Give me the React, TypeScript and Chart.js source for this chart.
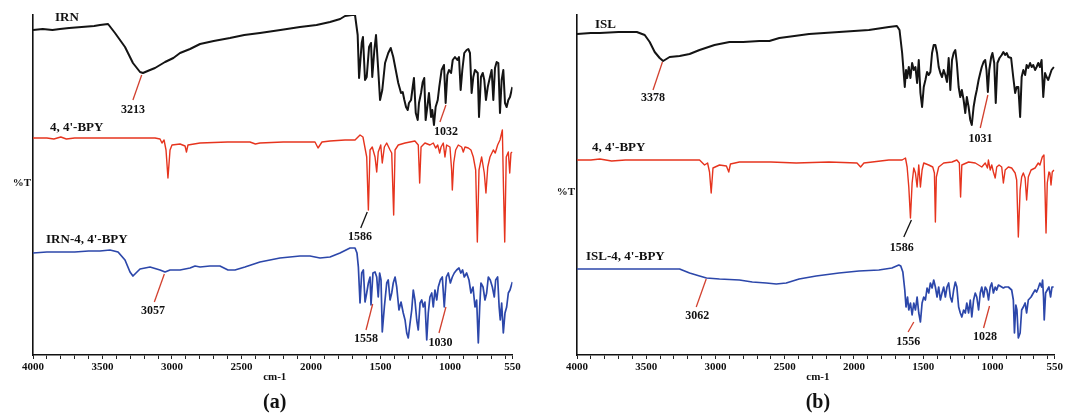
import { useEffect, useRef } from 'react';
import { Chart, registerables } from 'chart.js';

Chart.register(...registerables);

// ---------- axis ticks ----------
const X_TICKS = [4000, 3900, 3800, 3700, 3600, 3500, 3400, 3300, 3200, 3100, 3000, 2900, 2800, 2700, 2600, 2500, 2400, 2300, 2200, 2100, 2000, 1900, 1800, 1700, 1600, 1500, 1400, 1300, 1200, 1100, 1000, 900, 800, 700, 600, 550];
const X_LABELED = [4000, 3500, 3000, 2500, 2000, 1500, 1000, 550];

// ---------- panel (a) series: [wavenumber, %T offset] ----------
const IRN: [number, number][] = [[4000,325],[3930,326],[3860,325],[3806,326],[3740,327],[3650,328],[3560,329],[3518,330],[3460,331],[3410,322],[3338,308],[3281,292],[3230,283],[3209,282],[3158,285],[3122,287],[3050,293],[2990,297],[2942,302],[2870,306],[2798,311],[2700,314],[2583,317],[2480,320],[2367,322],[2220,325],[2079,328],[1960,330],[1863,333],[1790,336],[1755,339],[1705,340],[1683,340],[1664,320],[1654,277],[1635,312],[1626,318],[1611,275],[1599,278],[1582,308],[1568,312],[1559,278],[1544,305],[1532,320],[1516,285],[1503,255],[1487,265],[1467,292],[1444,302],[1426,307],[1408,298],[1390,285],[1372,272],[1352,262],[1340,263],[1328,255],[1316,248],[1304,245],[1295,252],[1280,255],[1268,268],[1259,277],[1246,242],[1232,235],[1223,252],[1208,262],[1196,273],[1185,277],[1175,235],[1163,248],[1151,262],[1136,238],[1127,245],[1115,230],[1103,248],[1088,255],[1077,268],[1060,285],[1043,290],[1031,252],[1019,280],[1007,285],[992,282],[980,295],[964,298],[947,295],[935,298],[923,265],[911,285],[897,302],[880,305],[868,306],[856,302],[844,262],[832,278],[820,285],[800,282],[791,238],[777,278],[764,282],[753,275],[741,255],[728,268],[712,278],[700,285],[688,255],[676,287],[664,293],[652,292],[640,242],[628,275],[616,285],[604,252],[592,248],[580,255],[568,258],[551,268]];

const BPY_A: [number, number][] = [[4000,217],[3900,217],[3850,216],[3800,218],[3760,216],[3700,217],[3600,217],[3518,217],[3400,217],[3250,217],[3122,217],[3086,216],[3072,212],[3057,215],[3043,205],[3029,177],[3014,205],[3000,210],[2942,211],[2906,209],[2896,203],[2885,210],[2798,212],[2600,213],[2439,213],[2400,211],[2367,212],[2200,213],[2079,213],[1971,213],[1949,207],[1921,213],[1863,214],[1755,215],[1683,215],[1647,220],[1626,218],[1599,198],[1587,145],[1575,205],[1559,208],[1539,198],[1527,183],[1516,203],[1498,210],[1487,192],[1472,208],[1455,212],[1431,205],[1419,202],[1405,140],[1395,205],[1372,210],[1323,212],[1252,214],[1228,210],[1218,172],[1208,208],[1180,212],[1144,210],[1120,212],[1103,207],[1088,210],[1074,202],[1064,208],[1048,212],[1036,198],[1024,210],[1000,208],[988,185],[983,165],[973,192],[959,205],[940,210],[916,208],[904,203],[892,208],[868,207],[849,205],[832,198],[815,185],[803,113],[791,185],[772,198],[753,182],[741,162],[728,188],[712,198],[688,205],[674,202],[657,210],[640,215],[623,225],[615,168],[606,113],[595,198],[580,203],[570,182],[561,202],[551,203]];

const IRN_BPY: [number, number][] = [[4000,102],[3900,103],[3806,103],[3700,103],[3600,104],[3518,104],[3446,105],[3388,103],[3338,95],[3302,83],[3281,79],[3230,86],[3158,88],[3086,85],[3050,83],[3014,85],[2942,85],[2870,87],[2834,89],[2798,88],[2727,89],[2655,89],[2597,85],[2547,85],[2475,88],[2367,93],[2223,97],[2079,99],[2007,99],[1935,97],[1863,98],[1791,102],[1719,107],[1683,107],[1669,102],[1659,88],[1647,52],[1635,82],[1623,85],[1611,53],[1599,62],[1587,72],[1575,78],[1568,50],[1554,82],[1539,83],[1527,78],[1516,58],[1506,82],[1496,75],[1487,23],[1472,48],[1455,72],[1444,75],[1431,55],[1419,62],[1408,72],[1395,78],[1383,68],[1367,45],[1352,53],[1336,42],[1323,35],[1311,22],[1300,17],[1287,32],[1275,45],[1264,65],[1252,55],[1239,35],[1228,25],[1215,52],[1203,55],[1192,48],[1180,53],[1167,15],[1156,42],[1144,58],[1131,62],[1120,48],[1108,65],[1095,55],[1084,68],[1069,75],[1055,78],[1041,48],[1026,78],[1012,82],[997,72],[983,78],[969,82],[952,85],[935,87],[922,82],[909,85],[897,78],[880,82],[863,75],[849,62],[834,68],[820,48],[808,55],[796,12],[786,48],[777,72],[762,68],[748,55],[736,62],[724,78],[710,75],[695,68],[681,58],[671,75],[657,78],[646,48],[638,35],[628,52],[616,22],[604,42],[592,48],[580,62],[568,65],[551,73]];

// ---------- panel (b) series ----------
const ISL: [number, number][] = [[4000,321],[3900,322],[3835,322],[3700,323],[3568,323],[3511,320],[3475,313],[3439,303],[3403,297],[3378,294],[3331,298],[3259,299],[3187,301],[3115,305],[3007,310],[2899,313],[2800,313],[2683,314],[2611,314],[2539,317],[2430,319],[2324,321],[2108,323],[1892,325],[1748,328],[1690,329],[1671,325],[1652,302],[1633,268],[1624,285],[1616,277],[1604,288],[1592,277],[1580,292],[1568,285],[1556,288],[1544,272],[1532,295],[1520,262],[1508,248],[1496,268],[1484,275],[1472,283],[1460,280],[1448,283],[1436,302],[1424,310],[1412,310],[1400,302],[1388,288],[1376,282],[1364,278],[1352,285],[1340,280],[1328,273],[1316,297],[1304,265],[1292,295],[1280,302],[1268,305],[1257,292],[1244,268],[1232,258],[1221,265],[1208,255],[1196,242],[1185,258],[1172,248],[1160,235],[1149,230],[1136,248],[1124,258],[1113,265],[1100,275],[1088,282],[1077,288],[1064,293],[1052,295],[1043,285],[1033,263],[1023,285],[1009,298],[1000,302],[987,292],[976,252],[964,292],[949,297],[933,300],[921,303],[908,300],[897,302],[885,298],[865,297],[849,277],[836,262],[825,268],[813,268],[800,238],[789,278],[777,285],[764,280],[753,290],[741,287],[728,292],[717,288],[705,290],[692,285],[681,288],[669,292],[657,288],[645,295],[633,258],[620,282],[609,278],[597,275],[585,280],[573,285],[556,288]];

const BPY_B: [number, number][] = [[4000,195],[3900,195],[3835,196],[3750,194],[3650,195],[3475,195],[3300,195],[3115,195],[3079,190],[3057,192],[3043,183],[3031,162],[3018,187],[2971,190],[2921,189],[2904,183],[2892,191],[2827,193],[2600,193],[2417,192],[2180,193],[1978,192],[1952,188],[1928,192],[1748,195],[1652,195],[1628,197],[1616,188],[1604,168],[1592,137],[1580,172],[1568,187],[1556,182],[1544,168],[1532,190],[1520,168],[1508,185],[1496,192],[1460,190],[1431,188],[1419,182],[1412,133],[1405,178],[1388,188],[1352,192],[1292,193],[1257,195],[1239,192],[1230,158],[1221,190],[1172,193],[1124,192],[1100,190],[1077,188],[1052,192],[1036,187],[1029,195],[1016,185],[1005,190],[993,183],[980,177],[969,188],[952,190],[933,188],[921,172],[908,185],[885,188],[861,187],[836,182],[825,175],[813,118],[800,165],[789,178],[777,182],[764,177],[753,155],[741,178],[721,185],[692,187],[669,192],[657,190],[640,198],[628,200],[620,162],[613,122],[604,172],[592,183],[585,182],[577,170],[568,183],[556,185]];

const ISL_BPY: [number, number][] = [[4000,86],[3850,86],[3691,86],[3500,86],[3259,86],[3187,82],[3115,79],[3065,77],[2971,76],[2827,75],[2734,73],[2633,72],[2561,71],[2489,72],[2396,76],[2273,79],[2108,82],[1964,84],[1820,85],[1726,87],[1676,90],[1662,89],[1647,83],[1633,65],[1624,48],[1613,58],[1604,45],[1592,52],[1580,40],[1568,52],[1556,45],[1544,58],[1532,42],[1520,33],[1508,52],[1496,58],[1484,55],[1472,67],[1460,62],[1448,72],[1436,67],[1424,75],[1412,68],[1400,58],[1388,68],[1376,55],[1364,62],[1352,68],[1340,58],[1328,68],[1316,72],[1304,58],[1292,53],[1280,65],[1268,73],[1257,68],[1244,48],[1232,42],[1221,38],[1208,45],[1196,42],[1185,52],[1172,42],[1160,55],[1149,38],[1136,55],[1124,62],[1113,58],[1100,45],[1088,62],[1077,68],[1064,58],[1052,68],[1040,65],[1028,55],[1016,68],[1005,72],[993,62],[980,68],[969,65],[957,70],[933,68],[921,67],[908,68],[885,68],[861,65],[849,55],[841,22],[831,50],[823,45],[813,17],[800,22],[789,45],[777,48],[764,52],[753,42],[741,55],[721,58],[705,62],[692,65],[681,63],[669,67],[657,72],[645,68],[638,75],[631,58],[626,35],[616,62],[604,65],[592,68],[580,58],[570,68],[558,68]];

// ---------- labels & peak annotations (data coordinates) ----------
type Ann = { text: string; from: [number, number]; to: [number, number]; at: [number, number]; color: string };
type SeriesLabel = { text: string; at: [number, number] };

const LABELS_A: SeriesLabel[] = [
  { text: 'IRN', at: [3842, 337] },
  { text: "4, 4'-BPY", at: [3878, 227] },
  { text: "IRN-4, 4'-BPY", at: [3906, 115] },
];
const ANN_A: Ann[] = [
  { text: '3213', from: [3218, 280], to: [3281, 255], at: [3281, 245], color: '#d2412f' },
  { text: '1032', from: [1029, 250], to: [1072, 233], at: [1029, 223], color: '#d2412f' },
  { text: '1586', from: [1595, 143], to: [1642, 127], at: [1647, 118], color: '#111111' },
  { text: '3057', from: [3055, 81], to: [3127, 53], at: [3137, 44], color: '#d2412f' },
  { text: '1558', from: [1556, 51], to: [1604, 25], at: [1604, 16], color: '#d2412f' },
  { text: '1030', from: [1029, 48], to: [1079, 22], at: [1068, 12], color: '#d2412f' },
];
const LABELS_B: SeriesLabel[] = [
  { text: 'ISL', at: [3870, 330] },
  { text: "4, 4'-BPY", at: [3892, 207] },
  { text: "ISL-4, 4'-BPY", at: [3935, 98] },
];
const ANN_B: Ann[] = [
  { text: '3378', from: [3383, 293], to: [3451, 265], at: [3451, 257], color: '#d2412f' },
  { text: '1031', from: [1033, 260], to: [1088, 227], at: [1086, 216], color: '#d2412f' },
  { text: '1586', from: [1585, 135], to: [1640, 118], at: [1654, 107], color: '#111111' },
  { text: '3062', from: [3067, 76], to: [3139, 48], at: [3131, 39], color: '#d2412f' },
  { text: '1556', from: [1568, 33], to: [1609, 23], at: [1608, 13], color: '#d2412f' },
  { text: '1028', from: [1021, 49], to: [1064, 27], at: [1054, 18], color: '#d2412f' },
];

const COLORS = { black: '#141414', red: '#e6341e', blue: '#2c47aa' };
const SERIF = "'Liberation Serif', 'DejaVu Serif', serif";

type PanelDef = {
  series: { data: [number, number][]; color: string; width: number }[];
  labels: SeriesLabel[];
  anns: Ann[];
  tY: number;
  tag: string;
  left: number;
  width: number;
  padLeft: number;
  padRight: number;
};

const PANELS: PanelDef[] = [
  {
    series: [
      { data: IRN, color: COLORS.black, width: 2 },
      { data: BPY_A, color: COLORS.red, width: 1.4 },
      { data: IRN_BPY, color: COLORS.blue, width: 1.7 },
    ],
    labels: LABELS_A, anns: ANN_A, tY: 172, tag: '(a)',
    left: 0, width: 540, padLeft: 33, padRight: 27.5,
  },
  {
    series: [
      { data: ISL, color: COLORS.black, width: 2 },
      { data: BPY_B, color: COLORS.red, width: 1.4 },
      { data: ISL_BPY, color: COLORS.blue, width: 1.7 },
    ],
    labels: LABELS_B, anns: ANN_B, tY: 163, tag: '(b)',
    left: 540, width: 525, padLeft: 37, padRight: 8.5,
  },
];

function overlayPlugin(p: PanelDef) {
  return {
    id: 'overlay' + p.tag,
    afterDatasetsDraw(chart: any) {
      const { ctx, chartArea } = chart;
      const xs = chart.scales.x;
      const ys = chart.scales.y;
      const px = (v: number) => xs.getPixelForValue(v);
      const py = (v: number) => ys.getPixelForValue(v);
      ctx.save();
      // series labels
      ctx.fillStyle = '#111';
      ctx.font = `bold 13px ${SERIF}`;
      ctx.textAlign = 'left';
      ctx.textBaseline = 'middle';
      for (const l of p.labels) ctx.fillText(l.text, px(l.at[0]), py(l.at[1]));
      // peak annotations
      for (const a of p.anns) {
        ctx.strokeStyle = a.color;
        ctx.lineWidth = 1.3;
        ctx.beginPath();
        ctx.moveTo(px(a.from[0]), py(a.from[1]));
        ctx.lineTo(px(a.to[0]), py(a.to[1]));
        ctx.stroke();
        ctx.fillStyle = '#111';
        ctx.font = `bold 12px ${SERIF}`;
        ctx.textAlign = 'center';
        ctx.fillText(a.text, px(a.at[0]), py(a.at[1]));
      }
      // %T
      ctx.font = `bold 11px ${SERIF}`;
      ctx.textAlign = 'center';
      ctx.fillText('%T', chartArea.left - 11, py(p.tY));
      // cm-1 and panel tag
      const cx = (chartArea.left + chartArea.right) / 2 + 2;
      ctx.fillText('cm-1', cx, chartArea.bottom + 22);
      ctx.font = `bold 20px ${SERIF}`;
      ctx.fillText(p.tag, cx, chartArea.bottom + 48);
      ctx.restore();
    },
  };
}

function Panel({ p }: { p: PanelDef }) {
  const ref = useRef<HTMLCanvasElement | null>(null);
  useEffect(() => {
    if (!ref.current) return;
    const chart = new Chart(ref.current, {
      type: 'line',
      data: {
        datasets: p.series.map((s) => ({
          data: s.data.map(([x, y]) => ({ x, y })),
          borderColor: s.color,
          borderWidth: s.width,
          borderJoinStyle: 'round',
          pointRadius: 0,
          tension: 0,
          fill: false,
        })),
      },
      options: {
        animation: false,
        responsive: false,
        devicePixelRatio: 1,
        parsing: true,
        layout: { padding: { left: p.padLeft, right: p.padRight, top: 15, bottom: 0 } },
        plugins: { legend: { display: false }, tooltip: { enabled: false } },
        scales: {
          x: {
            type: 'linear',
            min: 550,
            max: 4000,
            reverse: true,
            afterBuildTicks: (scale: any) => {
              scale.ticks = X_TICKS.map((v) => ({ value: v }));
            },
            afterFit: (scale: any) => {
              scale.height = 58;
            },
            ticks: {
              autoSkip: false,
              maxRotation: 0,
              minRotation: 0,
              padding: 2,
              color: '#111',
              font: { family: SERIF, size: 11, weight: 'bold' },
              callback: (v: any) => (X_LABELED.includes(Number(v)) ? String(v) : ''),
            },
            grid: { display: true, drawOnChartArea: false, drawTicks: true, tickLength: 4, color: '#222', lineWidth: 1 },
            border: { display: true, color: '#111', width: 1.6 },
          },
          y: {
            type: 'linear',
            min: 0,
            max: 340,
            afterFit: (scale: any) => {
              scale.width = 0;
            },
            ticks: { display: false },
            grid: { display: false },
            border: { display: true, color: '#111', width: 1.6 },
          },
        },
      } as any,
      plugins: [overlayPlugin(p)],
    });
    return () => chart.destroy();
  }, [p]);
  return (
    <canvas
      ref={ref}
      width={p.width}
      height={413}
      style={{ position: 'absolute', left: p.left, top: 0, width: p.width, height: 413 }}
    />
  );
}

export default function App() {
  return (
    <div style={{ position: 'absolute', left: 0, top: 0, width: 1065, height: 413, background: '#fff' }}>
      {PANELS.map((p) => (
        <Panel key={p.tag} p={p} />
      ))}
    </div>
  );
}
